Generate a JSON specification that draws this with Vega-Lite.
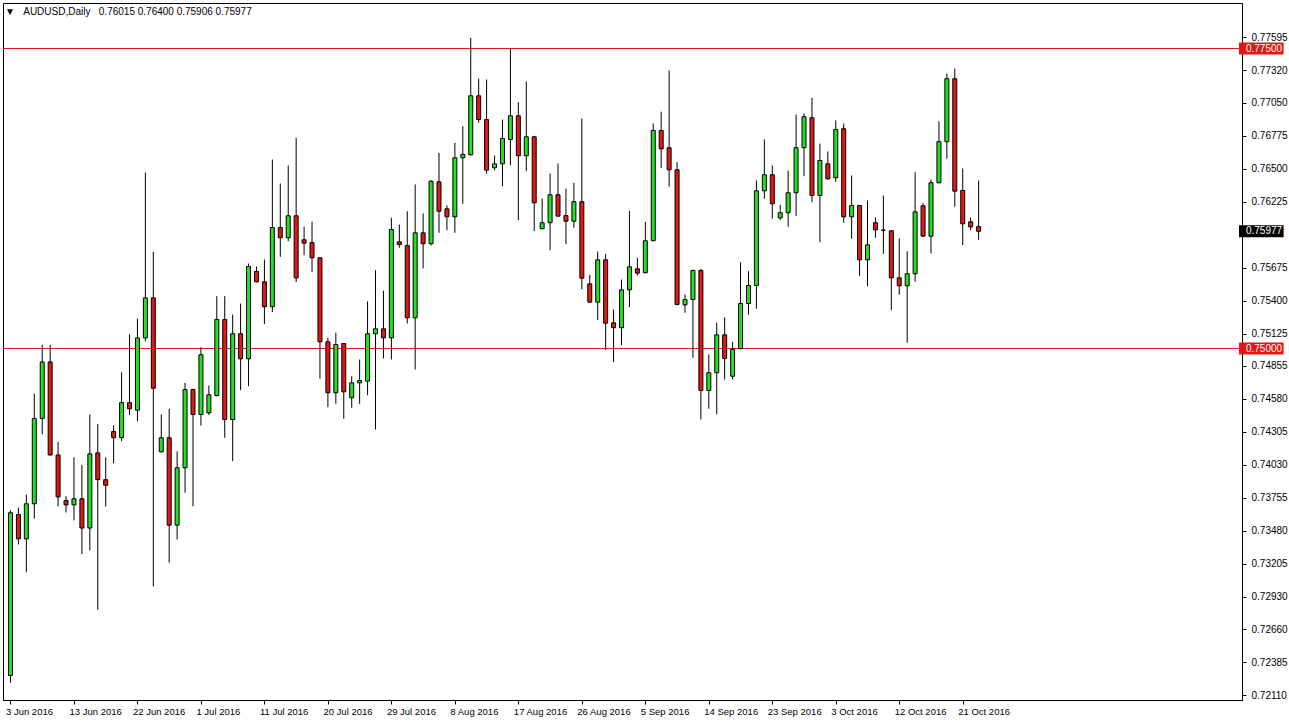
{
  "$schema": "https://vega.github.io/schema/vega-lite/v6.json",
  "width": 1239,
  "height": 697,
  "autosize": {"type": "none"},
  "padding": {"left": 3, "top": 3, "right": 47, "bottom": 23},
  "background": "#ffffff",
  "config": {"font": "Liberation Sans", "view": {"stroke": "#000000", "strokeWidth": 1}},
  "title": {"text": "▼\u00a0\u00a0\u00a0AUDUSD,Daily\u00a0\u00a0\u00a00.76015 0.76400 0.75906 0.75977", "anchor": "start", "frame": "group", "offset": -14, "dx": 2, "fontSize": 10, "fontWeight": "normal", "font": "Liberation Sans", "color": "#000000"},
  "datasets": {
    "candles": [
      {"i":0,"o":0.72275,"h":0.73653,"l":0.72214,"c":0.73631},
      {"i":1,"o":0.73617,"h":0.73673,"l":0.73367,"c":0.73414},
      {"i":2,"o":0.73414,"h":0.73783,"l":0.73136,"c":0.73706},
      {"i":3,"o":0.73706,"h":0.74623,"l":0.73582,"c":0.74417},
      {"i":4,"o":0.74417,"h":0.75031,"l":0.74285,"c":0.74888},
      {"i":5,"o":0.74888,"h":0.75031,"l":0.74107,"c":0.74113},
      {"i":6,"o":0.74113,"h":0.74222,"l":0.73683,"c":0.73763},
      {"i":7,"o":0.73734,"h":0.73768,"l":0.73633,"c":0.73697},
      {"i":8,"o":0.73697,"h":0.74093,"l":0.73568,"c":0.73748},
      {"i":9,"o":0.73748,"h":0.7403,"l":0.73287,"c":0.73504},
      {"i":10,"o":0.73504,"h":0.74452,"l":0.73318,"c":0.74122},
      {"i":11,"o":0.7413,"h":0.74371,"l":0.72822,"c":0.73907},
      {"i":12,"o":0.73907,"h":0.74093,"l":0.73683,"c":0.7386},
      {"i":13,"o":0.74308,"h":0.7436,"l":0.74044,"c":0.74257},
      {"i":14,"o":0.74257,"h":0.74802,"l":0.74228,"c":0.74549},
      {"i":15,"o":0.74549,"h":0.75118,"l":0.74446,"c":0.74498},
      {"i":16,"o":0.74486,"h":0.75249,"l":0.74394,"c":0.75088},
      {"i":17,"o":0.75088,"h":0.76466,"l":0.7506,"c":0.75422},
      {"i":18,"o":0.75422,"h":0.75806,"l":0.73017,"c":0.74669},
      {"i":19,"o":0.74139,"h":0.7445,"l":0.74135,"c":0.74256},
      {"i":20,"o":0.74256,"h":0.74498,"l":0.73214,"c":0.73528},
      {"i":21,"o":0.73528,"h":0.74144,"l":0.73408,"c":0.74006},
      {"i":22,"o":0.74006,"h":0.74714,"l":0.73798,"c":0.74658},
      {"i":23,"o":0.74658,"h":0.74666,"l":0.73686,"c":0.7445},
      {"i":24,"o":0.7445,"h":0.75011,"l":0.74358,"c":0.74948},
      {"i":25,"o":0.74464,"h":0.74692,"l":0.74445,"c":0.74614},
      {"i":26,"o":0.74608,"h":0.75436,"l":0.746,"c":0.75242},
      {"i":27,"o":0.75242,"h":0.75436,"l":0.74256,"c":0.74408},
      {"i":28,"o":0.74408,"h":0.75283,"l":0.74061,"c":0.75123},
      {"i":29,"o":0.75123,"h":0.75375,"l":0.74653,"c":0.74914},
      {"i":30,"o":0.74914,"h":0.75708,"l":0.74686,"c":0.75683},
      {"i":31,"o":0.75642,"h":0.75683,"l":0.7555,"c":0.75556},
      {"i":32,"o":0.75556,"h":0.75742,"l":0.75203,"c":0.75348},
      {"i":33,"o":0.75348,"h":0.76575,"l":0.75303,"c":0.76008},
      {"i":34,"o":0.76008,"h":0.76375,"l":0.75764,"c":0.75923},
      {"i":35,"o":0.75923,"h":0.76525,"l":0.75894,"c":0.76106},
      {"i":36,"o":0.76106,"h":0.76756,"l":0.75553,"c":0.75589},
      {"i":37,"o":0.75906,"h":0.76014,"l":0.75778,"c":0.75878},
      {"i":38,"o":0.75883,"h":0.76058,"l":0.75636,"c":0.75756},
      {"i":39,"o":0.75756,"h":0.7576,"l":0.74748,"c":0.75056},
      {"i":40,"o":0.75056,"h":0.75089,"l":0.74511,"c":0.74631},
      {"i":41,"o":0.74631,"h":0.75131,"l":0.74539,"c":0.75033},
      {"i":42,"o":0.75042,"h":0.75045,"l":0.74414,"c":0.74639},
      {"i":43,"o":0.74589,"h":0.74769,"l":0.74506,"c":0.74714},
      {"i":44,"o":0.74714,"h":0.74908,"l":0.74539,"c":0.74733},
      {"i":45,"o":0.74728,"h":0.75394,"l":0.74611,"c":0.75123},
      {"i":46,"o":0.75123,"h":0.75653,"l":0.74325,"c":0.75164},
      {"i":47,"o":0.75164,"h":0.75483,"l":0.74917,"c":0.75089},
      {"i":48,"o":0.75089,"h":0.76089,"l":0.74908,"c":0.75992},
      {"i":49,"o":0.75889,"h":0.76033,"l":0.75839,"c":0.75867},
      {"i":50,"o":0.75858,"h":0.76144,"l":0.75208,"c":0.75256},
      {"i":51,"o":0.75256,"h":0.76367,"l":0.74825,"c":0.75964},
      {"i":52,"o":0.75964,"h":0.76125,"l":0.75667,"c":0.75873},
      {"i":53,"o":0.75873,"h":0.76403,"l":0.75858,"c":0.76394},
      {"i":54,"o":0.76389,"h":0.76631,"l":0.75964,"c":0.76144},
      {"i":55,"o":0.76164,"h":0.76192,"l":0.75986,"c":0.76098},
      {"i":56,"o":0.76098,"h":0.76714,"l":0.75964,"c":0.76589},
      {"i":57,"o":0.76589,"h":0.76853,"l":0.76206,"c":0.76617},
      {"i":58,"o":0.76614,"h":0.77589,"l":0.7661,"c":0.77106},
      {"i":59,"o":0.77106,"h":0.77248,"l":0.76881,"c":0.76908},
      {"i":60,"o":0.76908,"h":0.77242,"l":0.76456,"c":0.76486},
      {"i":61,"o":0.76506,"h":0.76608,"l":0.76486,"c":0.76539},
      {"i":62,"o":0.76539,"h":0.76908,"l":0.76353,"c":0.7675},
      {"i":63,"o":0.76742,"h":0.77498,"l":0.76528,"c":0.76939},
      {"i":64,"o":0.76939,"h":0.77053,"l":0.76069,"c":0.76606},
      {"i":65,"o":0.76606,"h":0.77225,"l":0.76478,"c":0.76764},
      {"i":66,"o":0.76764,"h":0.7677,"l":0.75978,"c":0.76214},
      {"i":67,"o":0.75998,"h":0.76248,"l":0.75995,"c":0.76048},
      {"i":68,"o":0.76048,"h":0.76458,"l":0.75819,"c":0.76281},
      {"i":69,"o":0.76281,"h":0.76542,"l":0.761,"c":0.76103},
      {"i":70,"o":0.76108,"h":0.76333,"l":0.75869,"c":0.76061},
      {"i":71,"o":0.76061,"h":0.76381,"l":0.76006,"c":0.76223},
      {"i":72,"o":0.76223,"h":0.76917,"l":0.75492,"c":0.75586},
      {"i":73,"o":0.75539,"h":0.75614,"l":0.75381,"c":0.75386},
      {"i":74,"o":0.75386,"h":0.75808,"l":0.75236,"c":0.75739},
      {"i":75,"o":0.75739,"h":0.75789,"l":0.74986,"c":0.75211},
      {"i":76,"o":0.75214,"h":0.75325,"l":0.74886,"c":0.75173},
      {"i":77,"o":0.75173,"h":0.75575,"l":0.75028,"c":0.75489},
      {"i":78,"o":0.75489,"h":0.76148,"l":0.75344,"c":0.75681},
      {"i":79,"o":0.75664,"h":0.75756,"l":0.75608,"c":0.75628},
      {"i":80,"o":0.75631,"h":0.76056,"l":0.75628,"c":0.75898},
      {"i":81,"o":0.75898,"h":0.76875,"l":0.75895,"c":0.76817},
      {"i":82,"o":0.76817,"h":0.76973,"l":0.76503,"c":0.76664},
      {"i":83,"o":0.76673,"h":0.77317,"l":0.76348,"c":0.76489},
      {"i":84,"o":0.76489,"h":0.76553,"l":0.75361,"c":0.75367},
      {"i":85,"o":0.75364,"h":0.7545,"l":0.75298,"c":0.75408},
      {"i":86,"o":0.75408,"h":0.75658,"l":0.74923,"c":0.7565},
      {"i":87,"o":0.7565,"h":0.75664,"l":0.74408,"c":0.7465},
      {"i":88,"o":0.7465,"h":0.7495,"l":0.74498,"c":0.74798},
      {"i":89,"o":0.74798,"h":0.75214,"l":0.7445,"c":0.75114},
      {"i":90,"o":0.75114,"h":0.75261,"l":0.74742,"c":0.74917},
      {"i":91,"o":0.74769,"h":0.75056,"l":0.74742,"c":0.74992},
      {"i":92,"o":0.74998,"h":0.75719,"l":0.74995,"c":0.75375},
      {"i":93,"o":0.75375,"h":0.75644,"l":0.75283,"c":0.75525},
      {"i":94,"o":0.75525,"h":0.764,"l":0.75331,"c":0.76314},
      {"i":95,"o":0.76314,"h":0.76742,"l":0.76248,"c":0.76448},
      {"i":96,"o":0.76448,"h":0.76525,"l":0.76081,"c":0.76206},
      {"i":97,"o":0.76089,"h":0.76198,"l":0.76069,"c":0.76131},
      {"i":98,"o":0.76131,"h":0.76483,"l":0.76014,"c":0.76298},
      {"i":99,"o":0.76298,"h":0.7695,"l":0.76103,"c":0.76673},
      {"i":100,"o":0.76673,"h":0.76958,"l":0.76436,"c":0.76931},
      {"i":101,"o":0.76923,"h":0.77089,"l":0.76219,"c":0.76275},
      {"i":102,"o":0.76275,"h":0.76708,"l":0.75886,"c":0.76567},
      {"i":103,"o":0.76539,"h":0.76642,"l":0.76408,"c":0.76414},
      {"i":104,"o":0.76423,"h":0.769,"l":0.76389,"c":0.76825},
      {"i":105,"o":0.76831,"h":0.76875,"l":0.76048,"c":0.76098},
      {"i":106,"o":0.76098,"h":0.76442,"l":0.75914,"c":0.76192},
      {"i":107,"o":0.76192,"h":0.76195,"l":0.75603,"c":0.75739},
      {"i":108,"o":0.75739,"h":0.76233,"l":0.75519,"c":0.75864},
      {"i":109,"o":0.76048,"h":0.76092,"l":0.75923,"c":0.75989},
      {"i":110,"o":0.75986,"h":0.76275,"l":0.75789,"c":0.75986},
      {"i":111,"o":0.75981,"h":0.75985,"l":0.75319,"c":0.75589},
      {"i":112,"o":0.75589,"h":0.75917,"l":0.75448,"c":0.75523},
      {"i":113,"o":0.75523,"h":0.75811,"l":0.75048,"c":0.75623},
      {"i":114,"o":0.75623,"h":0.76469,"l":0.75556,"c":0.76139},
      {"i":115,"o":0.76189,"h":0.76214,"l":0.75931,"c":0.75936},
      {"i":116,"o":0.75936,"h":0.76408,"l":0.75792,"c":0.76381},
      {"i":117,"o":0.76381,"h":0.76894,"l":0.76378,"c":0.76723},
      {"i":118,"o":0.76723,"h":0.77292,"l":0.76581,"c":0.77248},
      {"i":119,"o":0.77248,"h":0.77333,"l":0.76181,"c":0.76311},
      {"i":120,"o":0.76317,"h":0.765,"l":0.75861,"c":0.76039},
      {"i":121,"o":0.76056,"h":0.76092,"l":0.75986,"c":0.76014},
      {"i":122,"o":0.76015,"h":0.764,"l":0.75906,"c":0.75977}
    ],
    "levels": [
      {"p": 0.775},
      {"p": 0.75}
    ],
    "tags": [
      {"p": 0.775, "t": "0.77500"},
      {"p": 0.75, "t": "0.75000"},
      {"p": 0.75977, "t": "0.75977"}
    ]
  },
  "layer": [
    {
      "data": {"name": "levels"},
      "mark": {"type": "rule", "color": "#e01818", "strokeWidth": 1},
      "encoding": {
        "y": {"field": "p", "type": "quantitative"}
      }
    },
    {
      "data": {"name": "candles"},
      "mark": {"type": "rule", "color": "#000000", "strokeWidth": 1},
      "encoding": {
        "x": {"field": "i", "type": "quantitative"},
        "y": {"field": "l", "type": "quantitative"},
        "y2": {"field": "h"}
      }
    },
    {
      "data": {"name": "candles"},
      "mark": {"type": "bar", "width": 4, "stroke": "#000000", "strokeWidth": 1},
      "encoding": {
        "x": {"field": "i", "type": "quantitative"},
        "y": {"field": "o", "type": "quantitative"},
        "y2": {"field": "c"},
        "fill": {
          "condition": [
            {"test": "datum.c > datum.o", "value": "#22e022"},
            {"test": "datum.c < datum.o", "value": "#e01818"}
          ],
          "value": "#000000"
        }
      }
    },
    {
      "data": {"name": "tags"},
      "mark": {"type": "rule", "strokeWidth": 12},
      "encoding": {
        "x": {"datum": 154.8125},
        "x2": {"datum": 160.4375},
        "y": {"field": "p", "type": "quantitative"},
        "color": {
          "condition": {"test": "datum.t == '0.75977'", "value": "#000000"},
          "value": "#e01818"
        }
      }
    },
    {
      "data": {"name": "tags"},
      "mark": {"type": "text", "align": "left", "baseline": "middle", "fontSize": 10, "font": "Liberation Sans", "color": "#ffffff"},
      "encoding": {
        "x": {"datum": 155.6875},
        "y": {"field": "p", "type": "quantitative"},
        "text": {"field": "t"}
      }
    }
  ],
  "encoding": {
    "x": {
      "type": "quantitative",
      "scale": {"domain": [-0.3125, 154.5625], "nice": false, "zero": false},
      "axis": {
        "values": [0, 8, 16, 24, 32, 40, 48, 56, 64, 72, 80, 88, 96, 104, 112, 120],
        "labelExpr": "['3 Jun 2016','13 Jun 2016','22 Jun 2016','1 Jul 2016','11 Jul 2016','20 Jul 2016','29 Jul 2016','8 Aug 2016','17 Aug 2016','26 Aug 2016','5 Sep 2016','14 Sep 2016','23 Sep 2016','3 Oct 2016','12 Oct 2016','21 Oct 2016'][round(datum.value/8)]",
        "labelAlign": "left",
        "labelOffset": -5,
        "labelFlush": false,
        "labelOverlap": false,
        "labelFontSize": 9.5,
        "labelColor": "#000000",
        "labelPadding": 2,
        "tickSize": 4,
        "tickColor": "#000000",
        "domainColor": "#000000",
        "grid": false,
        "title": null
      }
    },
    "y": {
      "type": "quantitative",
      "scale": {"domain": [0.7207083, 0.7787917], "nice": false, "zero": false},
      "axis": {
        "orient": "right",
        "values": [0.77595, 0.7732, 0.7705, 0.76775, 0.765, 0.76225, 0.75675, 0.754, 0.75125, 0.74855, 0.7458, 0.74305, 0.7403, 0.73755, 0.7348, 0.73205, 0.7293, 0.7266, 0.72385, 0.7211],
        "format": ".5f",
        "labelFontSize": 10,
        "labelColor": "#000000",
        "labelPadding": 5,
        "labelOverlap": false,
        "tickSize": 4,
        "tickColor": "#000000",
        "domainColor": "#000000",
        "grid": false,
        "title": null
      }
    }
  }
}
